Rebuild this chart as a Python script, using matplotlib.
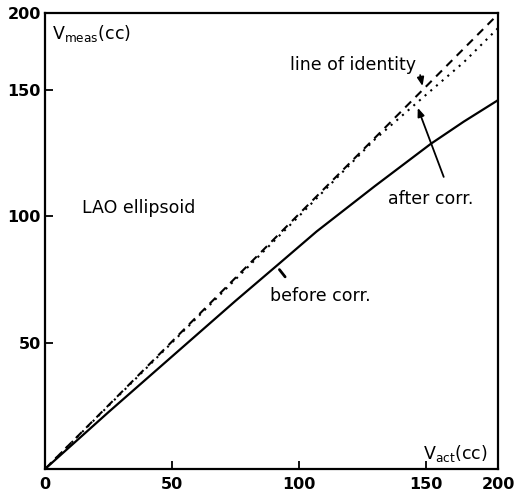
import matplotlib
matplotlib.use("Agg")
import matplotlib.pyplot as plt

# axis ends (the drawn frame stops a bit short of 200, labels say 200)
x_end = 178.5
y_end = 180.5

tick_vals = [50, 100, 150]
tick_labels = ["0", "50", "100", "150", "200"]

# line of identity
ident_x = [0, x_end]
ident_y = [0, 180]

# before correction (solid)
before_x = [0, 25, 50, 75, 92.5, 107, 130, 152, 165, 178.5]
before_y = [0, 22.5, 44.5, 66.5, 81.5, 94, 112, 128.7, 137.5, 146]

# after correction (dotted)
after_x = [0, 50, 100, 130, 150, 165, 178.5]
after_y = [0, 50, 100, 130.5, 148, 161, 174.5]

plt.rcParams['font.family'] = ['DejaVu Sans']
plt.rcParams['mathtext.fontset'] = 'dejavusans'

fig = plt.figure(figsize=(5.19, 4.95), dpi=100)
ax = fig.add_axes([0.0867, 0.0525, 0.9595 - 0.0867, 0.9737 - 0.0525])

ax.plot(ident_x, ident_y, color='black', lw=1.5, ls=(0, (4, 3)))
ax.plot(after_x, after_y, color='black', lw=1.5, ls=(0, (1, 2.6)))
ax.plot(before_x, before_y, color='black', lw=1.6)

ax.set_xlim(0, x_end)
ax.set_ylim(0, y_end)
ax.set_xticks([0] + tick_vals + [x_end])
ax.set_xticklabels(tick_labels)
ax.set_yticks([0] + tick_vals + [y_end])
ax.set_yticklabels([""] + tick_labels[1:])
for s in ax.spines.values():
    s.set_linewidth(1.6)
ax.tick_params(direction='in', length=6, width=1.3, labelsize=11.5, pad=3)
ax.tick_params(axis='x', pad=6)
for t in ax.get_xticklabels() + ax.get_yticklabels():
    t.set_fontweight('bold')

ax.text(2.8, 172.5, r"V$_{\mathrm{meas}}$(cc)", fontsize=12.5, ha='left', va='center')
ax.text(148.8, 6, r"V$_{\mathrm{act}}$(cc)", fontsize=12.5, ha='left', va='center')
ax.text(14.6, 103.5, "LAO ellipsoid", fontsize=12.5, ha='left', va='center')

ax.text(96.5, 159.8, "line of identity", fontsize=12.5, ha='left', va='center')
ax.annotate("", xy=(149, 150.5), xytext=(147.6, 157),
            arrowprops=dict(arrowstyle='-|>,head_length=0.5,head_width=0.2', color='black', lw=1.3))
ax.text(135, 107, "after corr.", fontsize=12.5, ha='left', va='center')
ax.annotate("", xy=(146.5, 144), xytext=(157.5, 114.6),
            arrowprops=dict(arrowstyle='-|>,head_length=0.5,head_width=0.2', color='black', lw=1.3))
ax.text(88.6, 68.5, "before corr.", fontsize=12.5, ha='left', va='center')
ax.annotate("", xy=(91.7, 79.8), xytext=(95.3, 75.2),
            arrowprops=dict(arrowstyle='-', color='black', lw=2))

plt.savefig("out.png", dpi=100)
plt.close()
